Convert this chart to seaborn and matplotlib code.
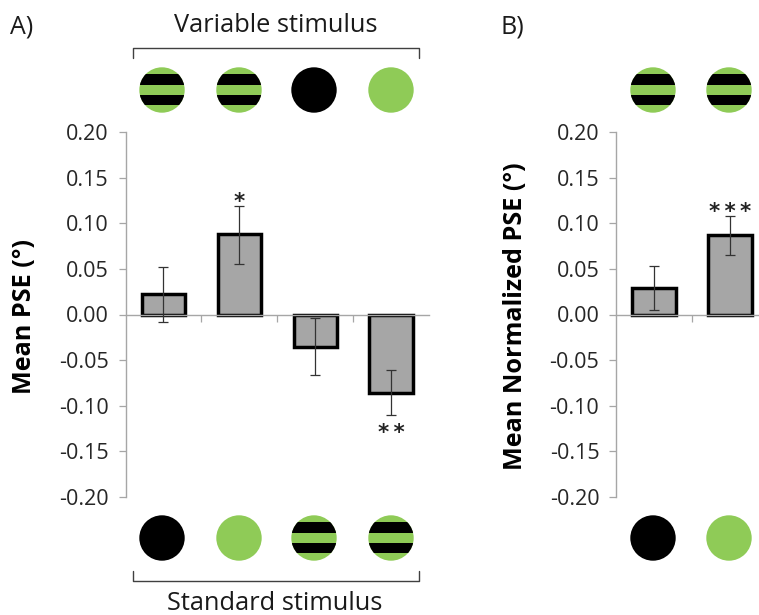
import matplotlib
matplotlib.use("Agg")
import matplotlib.pyplot as plt
from matplotlib.patches import Circle, Rectangle
import numpy as np
import pandas as pd
import seaborn as sns

# values
conds_a = ["1", "2", "3", "4"]
pse_a = [0.022, 0.088, -0.036, -0.086]
err_low_a = [-0.008, 0.055, -0.066, -0.110]
err_high_a = [0.052, 0.119, -0.004, -0.061]
stars_a = ["", "*", "", "*\u2009*"]

conds_b = ["1", "2"]
pse_b = [0.029, 0.087]
err_low_b = [0.005, 0.065]
err_high_b = [0.053, 0.108]
stars_b = ["", "*\u2009*\u2009*"]

yticks = [-0.20, -0.15, -0.10, -0.05, 0.00, 0.05, 0.10, 0.15, 0.20]

variable_a = ["striped", "striped", "black", "green"]
standard_a = ["black", "green", "striped", "striped"]
variable_b = ["striped", "striped"]
standard_b = ["black", "green"]

GREEN = "#8fcb57"
GREY = "#a6a6a6"
W, H = 759, 615

sns.set_theme(style="white")
plt.rcParams["font.family"] = ["Open Sans", "DejaVu Sans"]

fig = plt.figure(figsize=(W / 100, H / 100), dpi=100, facecolor="white")


def px_axes(left, right, top, bottom):
    return fig.add_axes([left / W, 1 - bottom / H, (right - left) / W, (bottom - top) / H])


def draw_panel(ax, conds, pse, low, high, stars, ylabel, label_x):
    df = pd.DataFrame({"cond": conds, "pse": pse})
    sns.barplot(data=df, x="cond", y="pse", color=GREY, saturation=1, width=0.57,
                edgecolor="black", linewidth=2.5, ax=ax)
    xs = np.arange(len(conds))
    pse = np.array(pse)
    yerr = [pse - np.array(low), np.array(high) - pse]
    ax.errorbar(xs, pse, yerr=yerr, fmt="none", ecolor="#333333", elinewidth=0.9,
                capsize=3.5, capthick=0.9, zorder=5)
    for x, top, bottom, s, v in zip(xs, high, low, stars, pse):
        if not s:
            continue
        # baseline sits just under the whisker end above, well under it below
        y = top - 0.002 if v > 0 else bottom - 0.026
        ax.text(x, y, s, ha="center", va="baseline", fontsize=15.5, family="DejaVu Sans",
                fontweight="bold", color="#222222")
    ax.set_xlim(-0.5, len(conds) - 0.5)
    ax.set_ylim(-0.20, 0.20)
    ax.set_yticks(yticks)
    ax.set_yticklabels([f"{t:.2f}" for t in yticks], fontsize=15.5, color="#262626")
    ax.set_xticks(xs[:-1] + 0.5)
    ax.set_xticklabels([])
    ax.set_xlabel("")
    ax.set_ylabel("")
    fig.text(label_x / W, 1 - 316 / H, ylabel, rotation=90, ha="center", va="center",
             fontsize=18.2, fontweight="bold", color="black")
    for side in ["top", "right"]:
        ax.spines[side].set_visible(False)
    ax.spines["bottom"].set_position(("data", 0))
    for side in ["left", "bottom"]:
        ax.spines[side].set_color(GREY)
        ax.spines[side].set_linewidth(1.0)
    ax.tick_params(axis="both", direction="out", length=5, width=0.9, color=GREY,
                   left=True, bottom=True, pad=7)
    ax.patch.set_alpha(0)


ax_a = px_axes(125.5, 429, 132, 497)
draw_panel(ax_a, conds_a, pse_a, err_low_a, err_high_a, stars_a, "Mean PSE (°)", 25)

ax_b = px_axes(616, 768, 132, 497)
draw_panel(ax_b, conds_b, pse_b, err_low_b, err_high_b, stars_b, "Mean Normalized PSE (°)", 516)

# overlay in pixel coordinates for the stimulus icons and brackets
ov = fig.add_axes([0, 0, 1, 1], zorder=10)
ov.set_xlim(0, W)
ov.set_ylim(H, 0)
ov.axis("off")


def stimulus(cx, cy, kind, r=22.7):
    color = {"black": "black", "green": GREEN, "striped": GREEN}[kind]
    disc = Circle((cx, cy), r, fc=color, ec="none")
    ov.add_patch(disc)
    if kind == "striped":
        for y0, y1 in [(cy - 16, cy - 5), (cy + 4.5, cy + 15)]:
            band = Rectangle((cx - r - 1, y0), 2 * r + 2, y1 - y0, fc="black", ec="none")
            ov.add_patch(band)
            band.set_clip_path(disc)


for cx, kind in zip([162, 239, 314, 391], variable_a):
    stimulus(cx, 90, kind)
for cx, kind in zip([162, 239, 314, 391], standard_a):
    stimulus(cx, 538, kind)
for cx, kind in zip([653, 729], variable_b):
    stimulus(cx, 90, kind)
for cx, kind in zip([653, 729], standard_b):
    stimulus(cx, 538, kind)

ov.plot([132.5, 132.5, 419, 419], [58, 48, 48, 58], color="#404040", lw=1.0)
ov.plot([132.5, 132.5, 419, 419], [571, 581, 581, 571], color="#404040", lw=1.0)

ov.text(276, 25, "Variable stimulus", ha="center", va="center", fontsize=18.3, color="#1a1a1a")
ov.text(275, 604, "Standard stimulus", ha="center", va="center", fontsize=18.3, color="#1a1a1a")
ov.text(22, 27, "A)", ha="center", va="center", fontsize=18, color="#1a1a1a")
ov.text(512, 27, "B)", ha="center", va="center", fontsize=18, color="#1a1a1a")

fig.savefig("out.png", dpi=100)
